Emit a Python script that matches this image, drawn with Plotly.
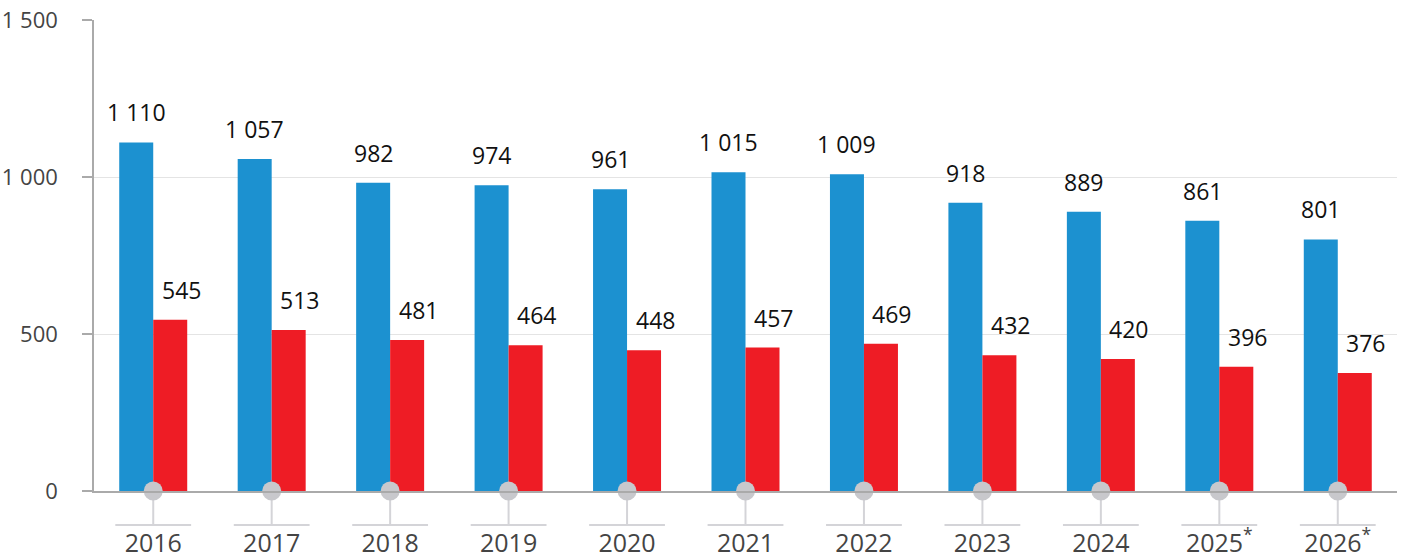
import plotly.graph_objects as go

years = ["2016", "2017", "2018", "2019", "2020", "2021", "2022", "2023", "2024", "2025", "2026"]
tick_labels = ["2016", "2017", "2018", "2019", "2020", "2021", "2022", "2023", "2024",
               "2025<sup>*</sup>", "2026<sup>*</sup>"]
blue_values = [1110, 1057, 982, 974, 961, 1015, 1009, 918, 889, 861, 801]
red_values = [545, 513, 481, 464, 448, 457, 469, 432, 420, 396, 376]

BLUE = "#1c91d0"
RED = "#ee1c25"
FONT = "Open Sans"

def fmt(v):
    return f"{v:,}".replace(",", " ")

idx = list(range(len(years)))

fig = go.Figure()
fig.add_trace(go.Bar(x=idx, y=blue_values, marker_color=BLUE, marker_line_width=0,
                     hoverinfo="skip", showlegend=False))
fig.add_trace(go.Bar(x=idx, y=red_values, marker_color=RED, marker_line_width=0,
                     hoverinfo="skip", showlegend=False))
fig.add_trace(go.Scatter(x=idx, y=[0] * len(idx), mode="markers",
                         marker=dict(size=19, color="#c8c8cc"), cliponaxis=False,
                         hoverinfo="skip", showlegend=False))

bw = 0.287
annotations = []
for i, (b, r) in enumerate(zip(blue_values, red_values)):
    annotations.append(dict(x=i - bw / 2, y=b, xref="x", yref="y", text=fmt(b),
                            showarrow=False, yanchor="bottom", yshift=12,
                            font=dict(family=FONT, size=23, color="#111")))
    annotations.append(dict(x=i + bw / 2, y=r, xref="x", yref="y", text=fmt(r),
                            showarrow=False, yanchor="bottom", yshift=12, xshift=11,
                            font=dict(family=FONT, size=23, color="#111")))

shapes = []
for i in idx:
    shapes.append(dict(type="line", xref="x", yref="paper", x0=i, x1=i, y0=0, y1=-0.072,
                       line=dict(color="#d4d4d8", width=2), layer="below"))
    shapes.append(dict(type="line", xref="x", yref="paper", x0=i - 0.32, x1=i + 0.32,
                       y0=-0.072, y1=-0.072, line=dict(color="#d4d4d8", width=2), layer="below"))

fig.update_layout(
    width=1408, height=557,
    margin=dict(l=94, r=11, t=20, b=66),
    paper_bgcolor="white", plot_bgcolor="white",
    barmode="group", bargap=0.426, bargroupgap=0,
    separators=", ",
    font=dict(family=FONT, size=22, color="#444"),
    annotations=annotations, shapes=shapes,
    xaxis=dict(range=[-0.5, 10.5], tickmode="array", tickvals=idx, ticktext=tick_labels,
               showline=True, linecolor="#aaaaaa", linewidth=1.5, ticks="",
               showgrid=False, zeroline=False, ticklabelstandoff=29, automargin=False,
               tickfont=dict(family=FONT, size=25, color="#444")),
    yaxis=dict(range=[0, 1500], tickvals=[0, 500, 1000, 1500], tickformat=",d",
               showline=True, linecolor="#aaaaaa", linewidth=1.5, automargin=False,
               ticks="outside", ticklen=10, tickcolor="#aaaaaa", tickwidth=1.5,
               showgrid=True, gridcolor="#e4e4e4", gridwidth=1, zeroline=False,
               ticklabelstandoff=20, ticklabeloverflow="allow",
               tickfont=dict(family=FONT, size=22, color="#444")),
)

fig.write_html("out.html", config={"displayModeBar": False},
               post_script="document.body.style.margin='0';document.body.style.overflow='hidden';")
